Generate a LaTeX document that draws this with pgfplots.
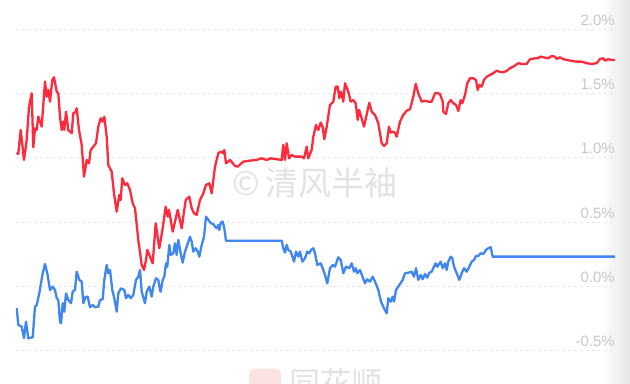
\documentclass[border=0pt]{standalone}
\usepackage{pgfplots}
\pgfplotsset{compat=1.18}
\usepackage{fontspec}
\setmainfont{Liberation Sans}
\newfontfamily\cjk{Noto Sans CJK SC}
\usetikzlibrary{shadings}
\definecolor{redline}{RGB}{255,42,60}
\definecolor{blueline}{RGB}{64,134,240}
\definecolor{gridc}{RGB}{232,232,232}
\definecolor{tickc}{RGB}{198,198,198}
\definecolor{wmark}{RGB}{226,226,226}
\definecolor{pinklogo}{RGB}{253,226,226}
\definecolor{edgegray}{RGB}{228,228,228}

\pgfplotstableread{
x y
16.7 1.039
18.3 1.029
20.7 1.215
24.0 0.982
26.7 1.138
29.0 1.396
31.7 1.500
33.3 1.081
35.0 1.228
36.7 1.215
38.3 1.319
41.7 1.241
45.0 1.591
46.7 1.474
48.3 1.526
50.0 1.435
52.3 1.604
54.0 1.625
56.7 1.513
58.3 1.500
60.0 1.319
61.7 1.215
63.3 1.280
64.3 1.215
66.0 1.357
68.3 1.215
71.7 1.190
73.3 1.345
75.7 1.357
76.7 1.384
79.0 1.215
81.7 1.099
84.0 0.852
86.7 0.982
89.0 0.956
90.7 1.060
93.3 1.085
96.0 1.112
98.3 1.241
100.7 1.306
102.7 1.280
104.3 1.319
105.3 1.254
106.7 1.163
108.3 0.943
111.7 0.891
114.0 0.723
116.7 0.580
119.3 0.710
120.7 0.671
122.3 0.840
125.0 0.788
127.3 0.801
130.0 0.749
132.7 0.646
135.0 0.607
138.3 0.361
141.7 0.166
144.0 0.127
146.0 0.205
147.3 0.283
150.0 0.231
152.7 0.179
155.7 0.490
159.3 0.296
162.7 0.451
165.7 0.619
167.7 0.542
169.0 0.594
172.7 0.425
177.7 0.594
181.7 0.451
185.7 0.671
189.3 0.697
191.7 0.607
194.0 0.568
196.7 0.555
200.0 0.671
203.3 0.723
206.0 0.788
209.3 0.801
211.7 0.723
215.0 0.930
218.3 1.034
221.0 1.047
223.3 1.034
224.3 1.060
226.0 0.956
230.0 0.982
235.0 0.936
237.7 0.930
243.3 0.969
250.0 0.977
256.7 0.982
261.7 0.995
266.7 0.982
270.7 0.995
276.7 0.988
281.7 0.982
283.3 1.099
285.0 0.982
286.7 1.112
289.0 0.995
291.7 1.021
295.0 1.008
299.3 1.008
301.7 1.008
304.0 0.995
306.7 1.085
308.3 0.995
311.7 1.060
313.3 1.163
316.0 1.254
318.3 1.215
320.7 1.272
322.7 1.236
324.3 1.143
326.7 1.241
330.0 1.410
333.3 1.435
335.7 1.552
337.7 1.552
339.3 1.462
341.0 1.513
343.3 1.435
345.0 1.578
348.3 1.513
350.7 1.435
353.3 1.448
355.7 1.423
357.7 1.293
359.0 1.371
360.7 1.332
364.0 1.241
367.3 1.357
369.3 1.427
371.7 1.357
375.0 1.332
378.3 1.267
381.7 1.112
384.0 1.091
386.7 1.112
389.0 1.241
390.7 1.194
392.7 1.202
395.0 1.194
396.7 1.163
400.0 1.280
403.3 1.332
406.7 1.365
410.0 1.376
413.3 1.474
415.7 1.573
418.3 1.500
421.7 1.435
425.0 1.443
428.3 1.435
431.7 1.435
435.0 1.500
438.3 1.500
440.0 1.495
442.7 1.435
443.3 1.357
446.0 1.340
448.3 1.423
450.7 1.448
453.3 1.423
456.0 1.410
458.3 1.363
460.7 1.448
462.3 1.423
465.0 1.487
467.3 1.578
470.0 1.617
473.3 1.617
476.0 1.604
477.7 1.526
479.3 1.565
481.7 1.552
484.0 1.604
486.7 1.629
490.0 1.643
493.3 1.656
496.7 1.676
500.0 1.666
503.3 1.664
506.7 1.674
510.0 1.695
513.3 1.707
518.3 1.734
521.7 1.728
526.7 1.728
530.0 1.765
535.0 1.772
538.3 1.772
540.0 1.785
543.3 1.780
548.3 1.772
551.7 1.790
555.0 1.785
556.7 1.767
560.0 1.780
563.3 1.765
570.0 1.754
576.7 1.746
581.7 1.746
586.7 1.734
591.7 1.728
596.7 1.734
600.0 1.767
603.3 1.772
605.0 1.754
608.3 1.765
611.7 1.759
615.0 1.759
}\redtable

\pgfplotstableread{
x y
16.7 -0.170
18.3 -0.300
21.7 -0.313
24.0 -0.403
26.0 -0.274
28.3 -0.403
32.7 -0.396
35.0 -0.158
36.7 -0.145
39.3 -0.054
42.7 0.102
45.0 0.174
47.3 0.102
50.0 -0.028
52.7 -0.002
55.0 -0.028
56.7 -0.092
58.3 -0.106
60.0 -0.274
61.0 -0.287
62.7 -0.131
64.3 -0.197
66.0 -0.054
68.3 -0.106
71.0 -0.131
72.7 -0.041
75.0 -0.028
76.7 0.114
79.3 0.050
81.7 0.037
83.3 -0.131
85.7 -0.080
87.7 -0.080
90.0 -0.162
92.7 -0.145
95.0 -0.162
98.3 -0.158
100.0 -0.106
102.7 -0.100
104.3 0.050
106.7 0.166
108.3 0.102
110.0 0.127
112.3 -0.028
114.3 -0.092
116.7 -0.197
118.3 -0.054
121.0 -0.015
124.3 -0.028
126.0 -0.092
128.3 -0.067
130.7 -0.092
133.3 -0.067
136.0 0.050
138.3 0.075
140.0 0.127
141.7 -0.041
145.0 -0.131
146.7 -0.041
149.3 -0.002
151.7 -0.080
153.3 -0.002
156.0 0.063
158.3 0.050
160.0 -0.028
160.7 -0.041
162.7 0.050
164.3 0.075
166.0 0.179
167.3 0.153
169.3 0.322
170.7 0.244
173.3 0.257
175.0 0.335
176.7 0.244
178.3 0.361
180.7 0.257
182.7 0.184
185.0 0.270
187.3 0.322
190.0 0.386
191.7 0.347
193.3 0.270
195.7 0.296
197.7 0.270
199.3 0.231
201.7 0.322
204.0 0.386
206.0 0.542
208.3 0.516
211.0 0.490
213.3 0.485
215.0 0.464
216.7 0.451
218.3 0.477
219.3 0.438
220.7 0.495
222.7 0.503
224.3 0.451
226.0 0.355
281.7 0.355
283.3 0.296
285.0 0.262
286.7 0.322
288.3 0.283
290.7 0.270
294.0 0.192
296.0 0.270
298.3 0.231
300.0 0.270
302.3 0.192
305.0 0.218
307.3 0.270
309.3 0.257
311.0 0.283
313.3 0.296
315.0 0.257
317.3 0.166
320.7 0.179
322.7 0.141
325.0 0.089
327.3 0.024
330.0 0.141
332.7 0.166
335.0 0.153
338.3 0.226
340.7 0.205
343.3 0.102
346.0 0.153
349.3 0.141
351.7 0.179
354.0 0.114
355.7 0.141
357.3 0.102
360.0 0.127
362.3 0.081
365.0 0.024
367.3 0.055
370.0 0.037
372.7 0.075
375.0 0.037
378.3 -0.028
381.0 -0.119
384.0 -0.170
386.7 -0.209
388.3 -0.092
390.7 -0.119
392.7 -0.080
394.0 -0.119
396.0 -0.028
398.3 -0.002
402.7 0.050
405.0 0.102
408.3 0.106
411.7 0.114
414.0 0.075
416.0 0.141
418.3 0.050
420.7 0.089
422.7 0.055
425.0 0.096
427.3 0.068
429.3 0.106
431.7 0.114
433.3 0.141
435.7 0.179
437.3 0.153
440.7 0.192
442.7 0.141
445.0 0.179
446.7 0.127
448.3 0.192
450.7 0.231
452.3 0.218
454.0 0.153
456.7 0.102
459.3 0.050
461.7 0.102
464.0 0.141
466.7 0.114
469.3 0.153
471.7 0.192
474.0 0.205
476.0 0.236
478.3 0.236
480.7 0.257
483.3 0.252
486.0 0.283
488.3 0.296
490.7 0.304
492.7 0.231
615.0 0.231
}\bluetable

\begin{document}
\begin{tikzpicture}
\begin{axis}[
  set layers,
  x=1pt, y=128.7pt,
  xmin=16, xmax=615,
  ymin=-0.758, ymax=2.225,
  clip mode=individual,
  axis line style={draw=none},
  xtick=\empty,
  ytick={-0.5,0,0.5,1,1.5,2},
  yticklabels={-0.5\%,0.0\%,0.5\%,1.0\%,1.5\%,2.0\%},
  yticklabel pos=right,
  major tick length=0pt,
  yticklabel style={anchor=south east, inner sep=0pt, yshift=3.5pt,
    text=tickc, font=\fontsize{15pt}{18pt}\selectfont},
  ymajorgrids,
  grid style={gridc, line width=0.9pt, dash pattern=on 3pt off 3pt},
]
\begin{pgfonlayer}{axis background}
  \path (axis cs:0,-0.758) rectangle (axis cs:630,2.225);
  \fill[left color=white, right color=edgegray, draw=none]
    (axis cs:602,-0.758) rectangle (axis cs:630,2.225);
  \node[text=wmark, font=\cjk\fontsize{33pt}{36pt}\selectfont, anchor=center]
    at (axis cs:315,0.80) {©\,清风半袖};
  \begin{scope}
    \clip (axis cs:16,-0.758) rectangle (axis cs:615,2.225);
    \fill[pinklogo, rounded corners=5pt]
      (axis cs:249,-0.640) rectangle (axis cs:281,-0.90);
    \node[text=wmark, font=\cjk\fontsize{31pt}{34pt}\selectfont, anchor=west]
      at (axis cs:286,-0.75) {同花顺};
  \end{scope}
\end{pgfonlayer}
\addplot[redline, line width=2.3pt, line join=round] table[x=x, y=y] {\redtable};
\addplot[blueline, line width=2.3pt, line join=round] table[x=x, y=y] {\bluetable};
\end{axis}
\end{tikzpicture}
\end{document}
